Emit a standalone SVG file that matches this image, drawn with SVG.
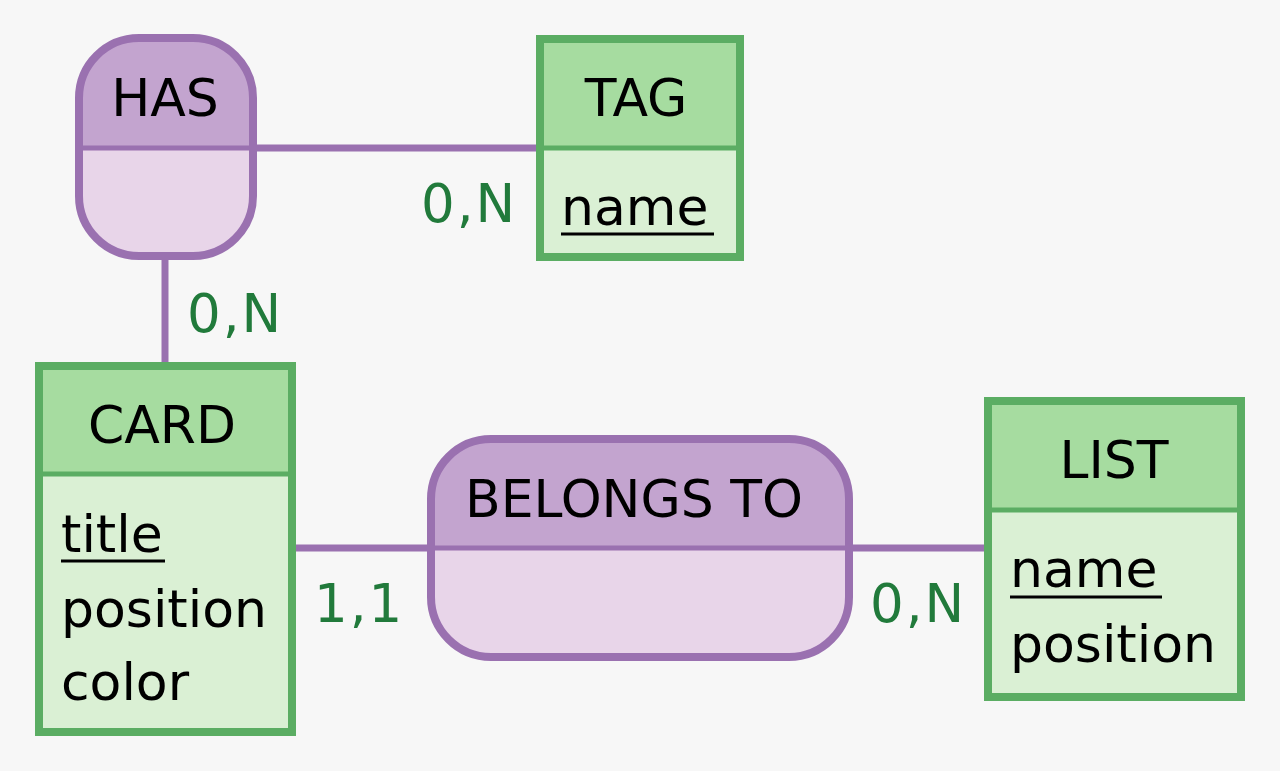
<svg xmlns="http://www.w3.org/2000/svg" width="1280" height="771" viewBox="0 0 1280 771">
<style>
.bg{fill:#f7f7f7}
.ent-h{fill:#a6dca0}
.ent-b{fill:#daf0d4}
.ent-o{fill:none;stroke:#5bad63;stroke-width:8}
.ent-d{stroke:#5bad63;stroke-width:5}
.rel-h{fill:#c3a4cf}
.rel-b{fill:#e8d5e9}
.rel-o{fill:none;stroke:#9a71b0;stroke-width:8}
.rel-d{stroke:#9a71b0;stroke-width:5}
.conn{stroke:#9a71b0;stroke-width:7;fill:none}
text{font-family:"DejaVu Sans","Liberation Sans",sans-serif;font-size:52px;fill:#000}
.t{text-anchor:middle}
.card{fill:#217a3b;font-size:53px;letter-spacing:2px}
.ul{stroke:#000;stroke-width:3}
</style>
<rect class="bg" x="0" y="0" width="1280" height="771"/>
<g id="connectors">
<line class="conn" x1="253" y1="148" x2="540" y2="148"/>
<line class="conn" x1="165" y1="256" x2="165" y2="366"/>
<line class="conn" x1="292" y1="548" x2="431" y2="548"/>
<line class="conn" x1="849" y1="548" x2="988" y2="548"/>
</g>
<g id="has">
<rect class="rel-b" x="79" y="38" width="174" height="218" rx="60"/>
<path class="rel-h" d="M79,148 V98 A60,60 0 0 1 139,38 H193 A60,60 0 0 1 253,98 V148 Z"/>
<line class="rel-d" x1="79" y1="148" x2="253" y2="148"/>
<rect class="rel-o" x="79" y="38" width="174" height="218" rx="60"/>
<text class="t" x="165" y="116">HAS</text>
</g>
<g id="tag">
<rect class="ent-b" x="540" y="39" width="200" height="218"/>
<rect class="ent-h" x="540" y="39" width="200" height="109"/>
<line class="ent-d" x1="540" y1="148" x2="740" y2="148"/>
<rect class="ent-o" x="540" y="39" width="200" height="218"/>
<text class="t" x="636" y="116">TAG</text>
<text x="561" y="225">name</text>
<line class="ul" x1="561" y1="234" x2="714" y2="234"/>
</g>
<g id="card">
<rect class="ent-b" x="39" y="366" width="253" height="366"/>
<rect class="ent-h" x="39" y="366" width="253" height="108"/>
<line class="ent-d" x1="39" y1="474" x2="292" y2="474"/>
<rect class="ent-o" x="39" y="366" width="253" height="366"/>
<text class="t" x="162" y="443">CARD</text>
<text x="61" y="552">title</text>
<line class="ul" x1="61" y1="561" x2="165" y2="561"/>
<text x="61" y="627">position</text>
<text x="61" y="700">color</text>
</g>
<g id="belongs-to">
<rect class="rel-b" x="431" y="439" width="418" height="218" rx="60"/>
<path class="rel-h" d="M431,548 V499 A60,60 0 0 1 491,439 H789 A60,60 0 0 1 849,499 V548 Z"/>
<line class="rel-d" x1="431" y1="548" x2="849" y2="548"/>
<rect class="rel-o" x="431" y="439" width="418" height="218" rx="60"/>
<text class="t" x="634" y="517">BELONGS TO</text>
</g>
<g id="list">
<rect class="ent-b" x="988" y="401" width="253" height="296"/>
<rect class="ent-h" x="988" y="401" width="253" height="109"/>
<line class="ent-d" x1="988" y1="510" x2="1241" y2="510"/>
<rect class="ent-o" x="988" y="401" width="253" height="296"/>
<text class="t" x="1114" y="478">LIST</text>
<text x="1010" y="587">name</text>
<line class="ul" x1="1010" y1="597" x2="1162" y2="597"/>
<text x="1010" y="662">position</text>
</g>
<g id="cardinalities">
<text class="card" x="421" y="222">0,N</text>
<text class="card" x="187" y="332">0,N</text>
<text class="card" x="314" y="622">1,1</text>
<text class="card" x="870" y="622">0,N</text>
</g>
</svg>
